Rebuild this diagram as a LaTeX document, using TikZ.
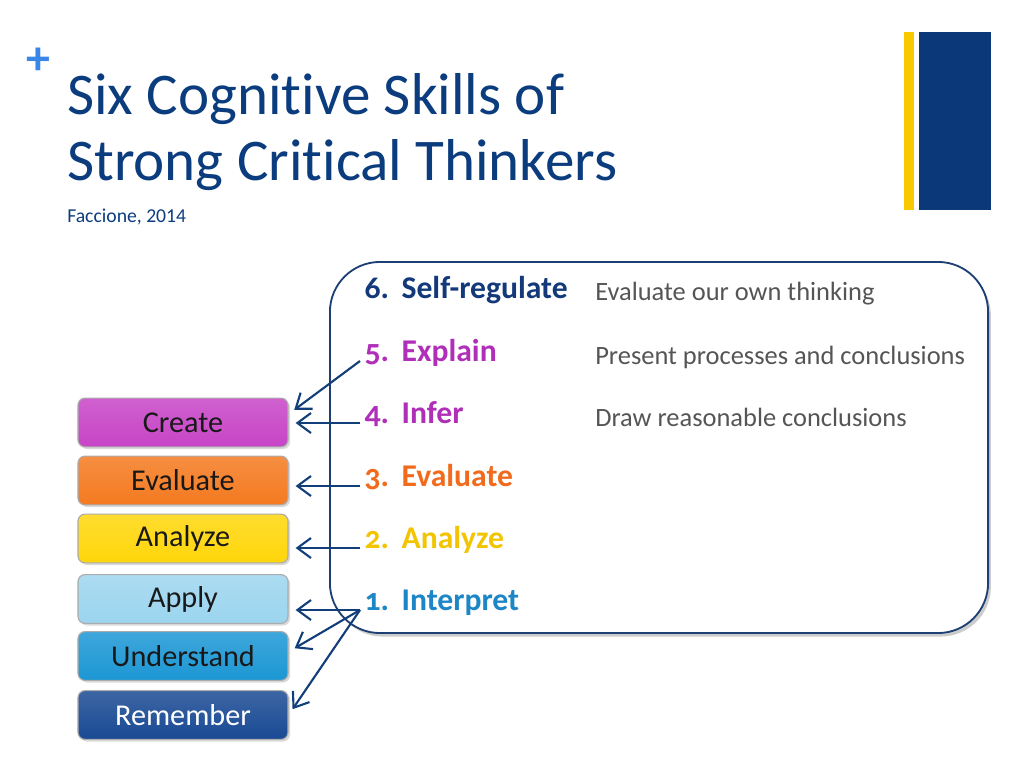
\documentclass[tikz,border=0pt]{standalone}
\usepackage{fontspec}
\setmainfont{Carlito}[Ligatures=NoCommon]
\usetikzlibrary{arrows.meta}
\usetikzlibrary{shadows}
\usepackage{xcolor}

\definecolor{titleblue}{HTML}{0B3C7D}
\definecolor{plusblue}{HTML}{3A86E8}
\definecolor{baryellow}{HTML}{F8C800}
\definecolor{barblue}{HTML}{0A3878}
\definecolor{panelblue}{HTML}{1D3F73}
\definecolor{arrowblue}{HTML}{123E7A}
\definecolor{descgray}{HTML}{555555}
\definecolor{createC}{HTML}{C744C6}
\definecolor{evaluateC}{HTML}{F47A20}
\definecolor{analyzeC}{HTML}{FFD60A}
\definecolor{applyC}{HTML}{9CD5EF}
\definecolor{understandC}{HTML}{1C97D4}
\definecolor{rememberC}{HTML}{1A4A94}
\definecolor{skillSix}{HTML}{13397A}
\definecolor{skillPurple}{HTML}{B02FB8}
\definecolor{skillOrange}{HTML}{F26B1D}
\definecolor{skillYellow}{HTML}{F2C500}
\definecolor{skillBlue}{HTML}{1C86C6}

\begin{document}
\begin{tikzpicture}[x=0.025cm, y=-0.025cm]
        % ================= styles =================
        \tikzset{
            % Bloom levels on the left
            levelbox/.style={draw=gray!65, line width=0.8pt, rounded corners=5pt, minimum width=5.25cm, minimum height=1.22cm, inner sep=0pt, font=\fontsize{21.5}{24}\selectfont, text=black!90, top color=#1!85!white, bottom color=#1, drop shadow={opacity=0.3, shadow xshift=1.5pt, shadow yshift=-1.5pt}},
            % numbered skills in the panel
            skill/.style={anchor=base west, inner sep=3pt, font=\bfseries\fontsize{22.5}{26}\selectfont\addfontfeature{Numbers=OldStyle}},
            % short descriptions
            desc/.style={anchor=base west, inner sep=0pt, text=descgray, font=\fontsize{18.8}{22}\selectfont},
            % rounded panel
            panel/.style={draw=panelblue, line width=1.3pt, fill=white, rounded corners=1.25cm, minimum width=16.45cm, minimum height=9.275cm, drop shadow={opacity=0.4, shadow xshift=2pt, shadow yshift=-2.5pt}},
            % connectors
            arr/.style={draw=arrowblue, line width=1.5pt, -{Straight Barb[length=3.4mm, width=5mm]}, shorten >=5pt}
        }
        \useasboundingbox (0,0) rectangle (1024,768);

        % ================= header =================
        \node[text=plusblue, font=\bfseries\fontsize{34}{34}\selectfont, inner sep=0pt] (plus) at (38,61) {+};
        \node[anchor=base west, inner sep=0pt, text=titleblue, font=\fontsize{42}{48}\selectfont] (title1) at (67,115) {Six Cognitive Skills of};
        \node[anchor=base west, inner sep=0pt, text=titleblue, font=\fontsize{42}{48}\selectfont] (title2) at (67,180) {Strong Critical Thinkers};
        \node[anchor=base west, inner sep=0pt, text=titleblue, font=\fontsize{14}{16}\selectfont] (source) at (67,222) {Faccione, 2014};

        \fill[baryellow] (904,32) rectangle (914,210);
        \fill[barblue] (919,32) rectangle (991,210);

        % ================= panel with the six skills =================
        \node[panel] (panel) at (659,447.5) {};

        \node[skill, text=skillSix] (s6) at (360,298) {6.\hspace{0.4em}Self-regulate};
        \node[skill, text=skillPurple] (s5) at (360,361) {5.\hspace{0.4em}Explain};
        \node[skill, text=skillPurple] (s4) at (360,423) {4.\hspace{0.4em}Infer};
        \node[skill, text=skillOrange] (s3) at (360,486) {3.\hspace{0.4em}Evaluate};
        \node[skill, text=skillYellow] (s2) at (360,548) {2.\hspace{0.4em}Analyze};
        \node[skill, text=skillBlue] (s1) at (360,610) {1.\hspace{0.4em}Interpret};

        \node[desc] (d6) at (595,300) {Evaluate our own thinking};
        \node[desc] (d5) at (595,364) {Present processes and conclusions};
        \node[desc] (d4) at (595,426) {Draw reasonable conclusions};

        % ================= Bloom levels =================
        \node[levelbox=createC] (create) at (183,422.5) {Create};
        \node[levelbox=evaluateC] (evaluate) at (183,480.5) {Evaluate};
        \node[levelbox=analyzeC] (analyze) at (183,538.5) {Analyze};
        \node[levelbox=applyC] (apply) at (183,599) {Apply};
        \node[levelbox=understandC] (understand) at (183,656) {Understand};
        \node[levelbox=rememberC, text=white] (remember) at (183,715) {Remember};

        % ================= arrows =================
        \draw[arr] (s5.base west) -- ([yshift=6pt]create.east);
        \draw[arr] (s4.base west) -- (s4.base west -| create.east);
        \draw[arr] (s3.base west) -- (s3.base west -| evaluate.east);
        \draw[arr] (s2.base west) -- (s2.base west -| analyze.east);
        \draw[arr] (s1.base west) -- (s1.base west -| apply.east);
        \draw[arr] (s1.base west) -- ([yshift=3pt]understand.east);
        \draw[arr] (s1.base west) -- (remember.east);

\end{tikzpicture}
\end{document}
